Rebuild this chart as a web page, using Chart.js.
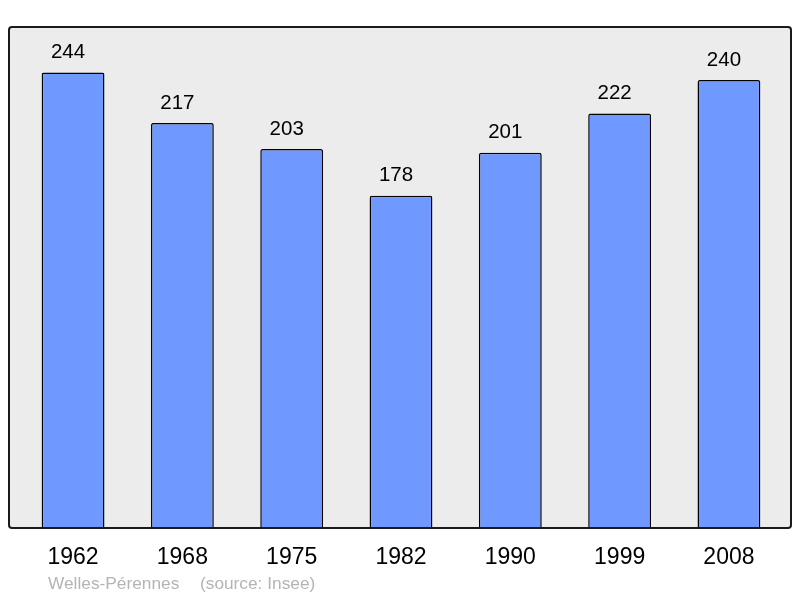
<!DOCTYPE html>
<html><head><meta charset="utf-8">
<script src="https://cdn.jsdelivr.net/npm/chart.js@4"></script>
<style>html,body{margin:0;padding:0;background:#fff}#w{width:800px;height:598px}</style>
</head><body><div id="w"><canvas id="c" width="800" height="598"></canvas></div>
<script>
const years = ["1962","1968","1975","1982","1990","1999","2008"];
const population = [244,217,203,178,201,222,240];
const placeName = "Welles-Pérennes";
const sourceText = "(source: Insee)";

const FONT = "'Liberation Sans', Arial, sans-serif";

function rr(ctx,x,y,w,h,r){
  ctx.beginPath();
  ctx.moveTo(x+r,y);ctx.lineTo(x+w-r,y);ctx.quadraticCurveTo(x+w,y,x+w,y+r);
  ctx.lineTo(x+w,y+h-r);ctx.quadraticCurveTo(x+w,y+h,x+w-r,y+h);
  ctx.lineTo(x+r,y+h);ctx.quadraticCurveTo(x,y+h,x,y+h-r);
  ctx.lineTo(x,y+r);ctx.quadraticCurveTo(x,y,x+r,y);ctx.closePath();
}

const framePlugin = {
  id:'frame',
  beforeDatasetsDraw(chart){
    const ctx=chart.ctx;
    ctx.save();
    rr(ctx,9,27,782,501,3);
    ctx.fillStyle='#ececec';ctx.fill();
    ctx.restore();
  },
  afterDatasetsDraw(chart){
    const ctx=chart.ctx;
    ctx.save();
    rr(ctx,9,27,782,501,3);
    ctx.lineWidth=2;ctx.strokeStyle='#1a1a1a';ctx.stroke();
    const meta=chart.getDatasetMeta(0);
    const xs=chart.scales.x;
    ctx.fillStyle='#000';
    ctx.textAlign='center';ctx.textBaseline='middle';
    ctx.font="20.5px "+FONT;
    meta.data.forEach((b,i)=>{
      ctx.fillText(String(population[i]),b.x-5,b.y-20);
    });
    ctx.font="23px "+FONT;
    years.forEach((y,i)=>{
      ctx.fillText(y,xs.getPixelForValue(i),558);
    });
    ctx.fillStyle='#b4b4b4';
    ctx.font="17.3px "+FONT;
    ctx.textAlign='left';
    ctx.fillText(placeName,48,584);
    ctx.fillText(sourceText,200,584);
    ctx.restore();
  }
};

new Chart(document.getElementById('c'),{
  type:'bar',
  data:{labels:years,datasets:[{data:population,backgroundColor:'#7099ff',borderColor:'#000',borderWidth:1.5,borderRadius:{topLeft:2,topRight:2,bottomLeft:0,bottomRight:0},borderSkipped:'bottom',barPercentage:0.575,categoryPercentage:1}]},
  options:{
    responsive:false,animation:false,devicePixelRatio:1,
    layout:{padding:{left:18.4,right:16.4,top:27,bottom:70}},
    plugins:{legend:{display:false},tooltip:{enabled:false}},
    scales:{
      x:{display:false},
      y:{display:false,min:0,max:268.4}
    }
  },
  plugins:[framePlugin]
});
</script>
</body></html>
